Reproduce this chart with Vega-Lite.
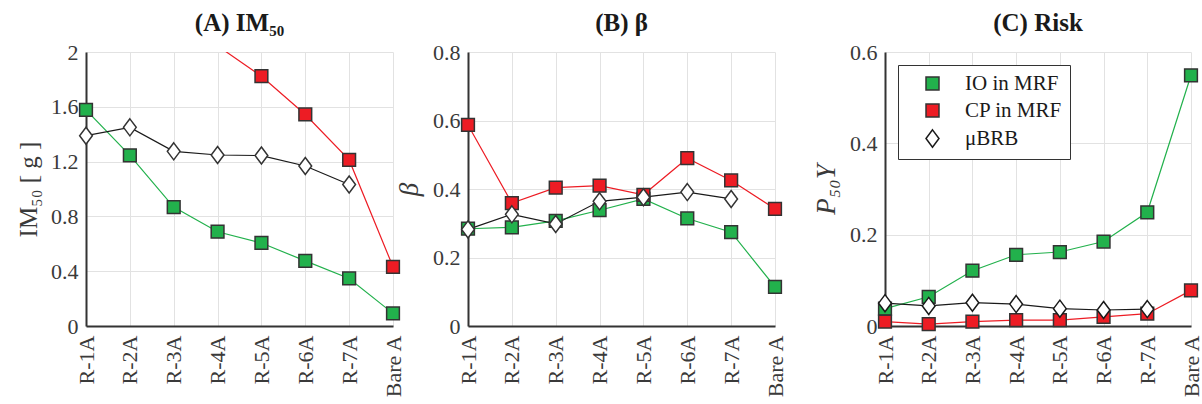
{
  "$schema": "https://vega.github.io/schema/vega-lite/v6.json",
  "background": "white",
  "padding": {"left": 16, "top": 11, "right": 0, "bottom": 5},
  "config": {
    "font": "Liberation Serif",
    "view": {"stroke": null},
    "axis": {
      "gridColor": "#e2e2e2", "gridWidth": 1,
      "domainColor": "#333333", "domainWidth": 2,
      "ticks": false,
      "labelFont": "Liberation Serif", "labelFontSize": 22, "labelColor": "#3a3a3a",
      "labelPadding": 8, "labelFlush": false,
      "titleFont": "Liberation Serif", "titleFontSize": 25, "titleColor": "#3a3a3a",
      "titleFontWeight": "normal", "titlePadding": 9
    },
    "axisX": {"labelAngle": 270, "labelPadding": 9},
    "legend": {
      "labelFont": "Liberation Serif", "labelFontSize": 21, "labelColor": "#1a1a1a",
      "strokeColor": "#333333", "fillColor": "white", "padding": 8,
      "symbolOffset": 16, "labelOffset": 22, "rowPadding": 5, "symbolSize": 300,
      "symbolStrokeColor": "#333333", "symbolStrokeWidth": 1.5
    },
    "title": {"font": "Liberation Serif", "fontSize": 25, "fontWeight": "bold", "color": "#1a1a1a", "offset": 5, "frame": "group"}
  },
  "datasets": {
    "d": [
      {"panel": "A", "cat": "R-1A", "series": "IO in MRF", "value": 1.578},
      {"panel": "A", "cat": "R-2A", "series": "IO in MRF", "value": 1.246},
      {"panel": "A", "cat": "R-3A", "series": "IO in MRF", "value": 0.868},
      {"panel": "A", "cat": "R-4A", "series": "IO in MRF", "value": 0.688},
      {"panel": "A", "cat": "R-5A", "series": "IO in MRF", "value": 0.606},
      {"panel": "A", "cat": "R-6A", "series": "IO in MRF", "value": 0.475},
      {"panel": "A", "cat": "R-7A", "series": "IO in MRF", "value": 0.347},
      {"panel": "A", "cat": "Bare A", "series": "IO in MRF", "value": 0.092},
      {"panel": "A", "cat": "R-4A", "series": "CP in MRF", "value": 2.045},
      {"panel": "A", "cat": "R-5A", "series": "CP in MRF", "value": 1.823},
      {"panel": "A", "cat": "R-6A", "series": "CP in MRF", "value": 1.544},
      {"panel": "A", "cat": "R-7A", "series": "CP in MRF", "value": 1.212},
      {"panel": "A", "cat": "Bare A", "series": "CP in MRF", "value": 0.432},
      {"panel": "A", "cat": "R-1A", "series": "μBRB", "value": 1.389},
      {"panel": "A", "cat": "R-2A", "series": "μBRB", "value": 1.45},
      {"panel": "A", "cat": "R-3A", "series": "μBRB", "value": 1.275},
      {"panel": "A", "cat": "R-4A", "series": "μBRB", "value": 1.248},
      {"panel": "A", "cat": "R-5A", "series": "μBRB", "value": 1.244},
      {"panel": "A", "cat": "R-6A", "series": "μBRB", "value": 1.168},
      {"panel": "A", "cat": "R-7A", "series": "μBRB", "value": 1.033},

      {"panel": "B", "cat": "R-1A", "series": "IO in MRF", "value": 0.284},
      {"panel": "B", "cat": "R-2A", "series": "IO in MRF", "value": 0.288},
      {"panel": "B", "cat": "R-3A", "series": "IO in MRF", "value": 0.307},
      {"panel": "B", "cat": "R-4A", "series": "IO in MRF", "value": 0.338},
      {"panel": "B", "cat": "R-5A", "series": "IO in MRF", "value": 0.371},
      {"panel": "B", "cat": "R-6A", "series": "IO in MRF", "value": 0.314},
      {"panel": "B", "cat": "R-7A", "series": "IO in MRF", "value": 0.274},
      {"panel": "B", "cat": "Bare A", "series": "IO in MRF", "value": 0.114},
      {"panel": "B", "cat": "R-1A", "series": "CP in MRF", "value": 0.587},
      {"panel": "B", "cat": "R-2A", "series": "CP in MRF", "value": 0.359},
      {"panel": "B", "cat": "R-3A", "series": "CP in MRF", "value": 0.404},
      {"panel": "B", "cat": "R-4A", "series": "CP in MRF", "value": 0.41},
      {"panel": "B", "cat": "R-5A", "series": "CP in MRF", "value": 0.383},
      {"panel": "B", "cat": "R-6A", "series": "CP in MRF", "value": 0.49},
      {"panel": "B", "cat": "R-7A", "series": "CP in MRF", "value": 0.425},
      {"panel": "B", "cat": "Bare A", "series": "CP in MRF", "value": 0.342},
      {"panel": "B", "cat": "R-1A", "series": "μBRB", "value": 0.282},
      {"panel": "B", "cat": "R-2A", "series": "μBRB", "value": 0.326},
      {"panel": "B", "cat": "R-3A", "series": "μBRB", "value": 0.298},
      {"panel": "B", "cat": "R-4A", "series": "μBRB", "value": 0.364},
      {"panel": "B", "cat": "R-5A", "series": "μBRB", "value": 0.376},
      {"panel": "B", "cat": "R-6A", "series": "μBRB", "value": 0.391},
      {"panel": "B", "cat": "R-7A", "series": "μBRB", "value": 0.371},

      {"panel": "C", "cat": "R-1A", "series": "IO in MRF", "value": 0.038},
      {"panel": "C", "cat": "R-2A", "series": "IO in MRF", "value": 0.064},
      {"panel": "C", "cat": "R-3A", "series": "IO in MRF", "value": 0.121},
      {"panel": "C", "cat": "R-4A", "series": "IO in MRF", "value": 0.156},
      {"panel": "C", "cat": "R-5A", "series": "IO in MRF", "value": 0.162},
      {"panel": "C", "cat": "R-6A", "series": "IO in MRF", "value": 0.185},
      {"panel": "C", "cat": "R-7A", "series": "IO in MRF", "value": 0.249},
      {"panel": "C", "cat": "Bare A", "series": "IO in MRF", "value": 0.549},
      {"panel": "C", "cat": "R-1A", "series": "CP in MRF", "value": 0.0095},
      {"panel": "C", "cat": "R-2A", "series": "CP in MRF", "value": 0.004},
      {"panel": "C", "cat": "R-3A", "series": "CP in MRF", "value": 0.0095},
      {"panel": "C", "cat": "R-4A", "series": "CP in MRF", "value": 0.013},
      {"panel": "C", "cat": "R-5A", "series": "CP in MRF", "value": 0.013},
      {"panel": "C", "cat": "R-6A", "series": "CP in MRF", "value": 0.02},
      {"panel": "C", "cat": "R-7A", "series": "CP in MRF", "value": 0.027},
      {"panel": "C", "cat": "Bare A", "series": "CP in MRF", "value": 0.078},
      {"panel": "C", "cat": "R-1A", "series": "μBRB", "value": 0.05},
      {"panel": "C", "cat": "R-2A", "series": "μBRB", "value": 0.044},
      {"panel": "C", "cat": "R-3A", "series": "μBRB", "value": 0.051},
      {"panel": "C", "cat": "R-4A", "series": "μBRB", "value": 0.048},
      {"panel": "C", "cat": "R-5A", "series": "μBRB", "value": 0.038},
      {"panel": "C", "cat": "R-6A", "series": "μBRB", "value": 0.035},
      {"panel": "C", "cat": "R-7A", "series": "μBRB", "value": 0.037}
    ]
  },
  "spacing": 26,
  "resolve": {"scale": {"fill": "independent", "shape": "independent", "color": "independent", "stroke": "independent"}},
  "hconcat": [
    {
      "spacing": -9,
      "resolve": {"scale": {"fill": "independent", "shape": "independent", "color": "independent", "stroke": "independent"}},
      "hconcat": [
        {
          "width": 307, "height": 274,
          "title": {"text": "(A) IM₅₀"},
          "data": {"name": "d"},
          "transform": [{"filter": "datum.panel === 'A'"}],
          "encoding": {
            "x": {"field": "cat", "type": "ordinal", "sort": ["R-1A","R-2A","R-3A","R-4A","R-5A","R-6A","R-7A","Bare A"], "scale": {"type": "point", "padding": 0}, "axis": {"title": null, "grid": true}},
            "y": {"field": "value", "type": "quantitative", "scale": {"domain": [0, 2], "nice": false}, "axis": {"values": [0, 0.4, 0.8, 1.2, 1.6, 2], "format": "~g", "title": "IM₅₀ [ g ]"}}
          },
          "layer": [
            {
              "mark": {"type": "line", "strokeWidth": 1.2, "clip": true},
              "encoding": {"color": {"field": "series", "type": "nominal", "scale": {"domain": ["μBRB", "IO in MRF", "CP in MRF"], "range": ["#1a1a1a", "#22b14c", "#ed1c24"]}, "legend": null}}
            },
            {
              "transform": [{"filter": "datum.value <= 2"}],
              "mark": {"type": "point", "filled": true, "opacity": 1, "size": 289, "stroke": "#333333", "strokeWidth": 1.5},
              "encoding": {
                "fill": {"field": "series", "type": "nominal", "scale": {"domain": ["IO in MRF", "CP in MRF", "μBRB"], "range": ["#22b14c", "#ed1c24", "#ffffff"]}, "legend": null},
                "shape": {"field": "series", "type": "nominal", "scale": {"domain": ["IO in MRF", "CP in MRF", "μBRB"], "range": ["M-0.75,-0.75L0.75,-0.75L0.75,0.75L-0.75,0.75Z", "M-0.75,-0.75L0.75,-0.75L0.75,0.75L-0.75,0.75Z", "M0,-1L0.75,0L0,1L-0.75,0Z"]}, "legend": null}
              }
            }
          ]
        },
        {
          "width": 307, "height": 274,
          "title": {"text": "(B) β"},
          "data": {"name": "d"},
          "transform": [{"filter": "datum.panel === 'B'"}],
          "encoding": {
            "x": {"field": "cat", "type": "ordinal", "sort": ["R-1A","R-2A","R-3A","R-4A","R-5A","R-6A","R-7A","Bare A"], "scale": {"type": "point", "padding": 0}, "axis": {"title": null, "grid": true}},
            "y": {"field": "value", "type": "quantitative", "scale": {"domain": [0, 0.8], "nice": false}, "axis": {"values": [0, 0.2, 0.4, 0.6, 0.8], "format": "~g", "title": "β", "titleFontStyle": "italic", "titleFontSize": 27}}
          },
          "layer": [
            {
              "mark": {"type": "line", "strokeWidth": 1.2},
              "encoding": {"color": {"field": "series", "type": "nominal", "scale": {"domain": ["μBRB", "IO in MRF", "CP in MRF"], "range": ["#1a1a1a", "#22b14c", "#ed1c24"]}, "legend": null}}
            },
            {
              "mark": {"type": "point", "filled": true, "opacity": 1, "size": 289, "stroke": "#333333", "strokeWidth": 1.5},
              "encoding": {
                "fill": {"field": "series", "type": "nominal", "scale": {"domain": ["IO in MRF", "CP in MRF", "μBRB"], "range": ["#22b14c", "#ed1c24", "#ffffff"]}, "legend": null},
                "shape": {"field": "series", "type": "nominal", "scale": {"domain": ["IO in MRF", "CP in MRF", "μBRB"], "range": ["M-0.75,-0.75L0.75,-0.75L0.75,0.75L-0.75,0.75Z", "M-0.75,-0.75L0.75,-0.75L0.75,0.75L-0.75,0.75Z", "M0,-1L0.75,0L0,1L-0.75,0Z"]}, "legend": null}
              }
            }
          ]
        }
      ]
    },
    {
      "width": 306, "height": 274,
      "title": {"text": "(C) Risk"},
      "data": {"name": "d"},
      "transform": [{"filter": "datum.panel === 'C'"}],
      "encoding": {
        "x": {"field": "cat", "type": "ordinal", "sort": ["R-1A","R-2A","R-3A","R-4A","R-5A","R-6A","R-7A","Bare A"], "scale": {"type": "point", "padding": 0}, "axis": {"title": null, "grid": true}},
        "y": {"field": "value", "type": "quantitative", "scale": {"domain": [0, 0.6], "nice": false}, "axis": {"values": [0, 0.2, 0.4, 0.6], "format": "~g", "title": "P₅₀Y", "titleFontStyle": "italic", "titleFontSize": 27}}
      },
      "layer": [
        {
          "mark": {"type": "line", "strokeWidth": 1.2},
          "encoding": {"color": {"field": "series", "type": "nominal", "scale": {"domain": ["μBRB", "IO in MRF", "CP in MRF"], "range": ["#1a1a1a", "#22b14c", "#ed1c24"]}, "legend": null}}
        },
        {
          "mark": {"type": "point", "filled": true, "opacity": 1, "size": 289, "strokeWidth": 1.5},
          "encoding": {
            "stroke": {"field": "series", "type": "nominal", "scale": {"domain": ["IO in MRF", "CP in MRF", "μBRB"], "range": ["#333333", "#333333", "#1a1a1a"]},
              "legend": {"orient": "top-left", "offset": 13, "title": null, "labelFont": "Liberation Serif", "labelFontSize": 21, "symbolSize": 300, "symbolStrokeWidth": 1.5}},
            "fill": {"field": "series", "type": "nominal", "scale": {"domain": ["IO in MRF", "CP in MRF", "μBRB"], "range": ["#22b14c", "#ed1c24", "#ffffff"]},
              "legend": {"orient": "top-left", "offset": 13, "title": null, "labelFont": "Liberation Serif", "labelFontSize": 21, "symbolSize": 300, "symbolStrokeWidth": 1.5}},
            "shape": {"field": "series", "type": "nominal", "scale": {"domain": ["IO in MRF", "CP in MRF", "μBRB"], "range": ["M-0.75,-0.75L0.75,-0.75L0.75,0.75L-0.75,0.75Z", "M-0.75,-0.75L0.75,-0.75L0.75,0.75L-0.75,0.75Z", "M0,-1L0.75,0L0,1L-0.75,0Z"]},
              "legend": {"orient": "top-left", "offset": 13, "title": null, "labelFont": "Liberation Serif", "labelFontSize": 21, "symbolSize": 300, "symbolStrokeWidth": 1.5}}
          }
        }
      ]
    }
  ]
}
